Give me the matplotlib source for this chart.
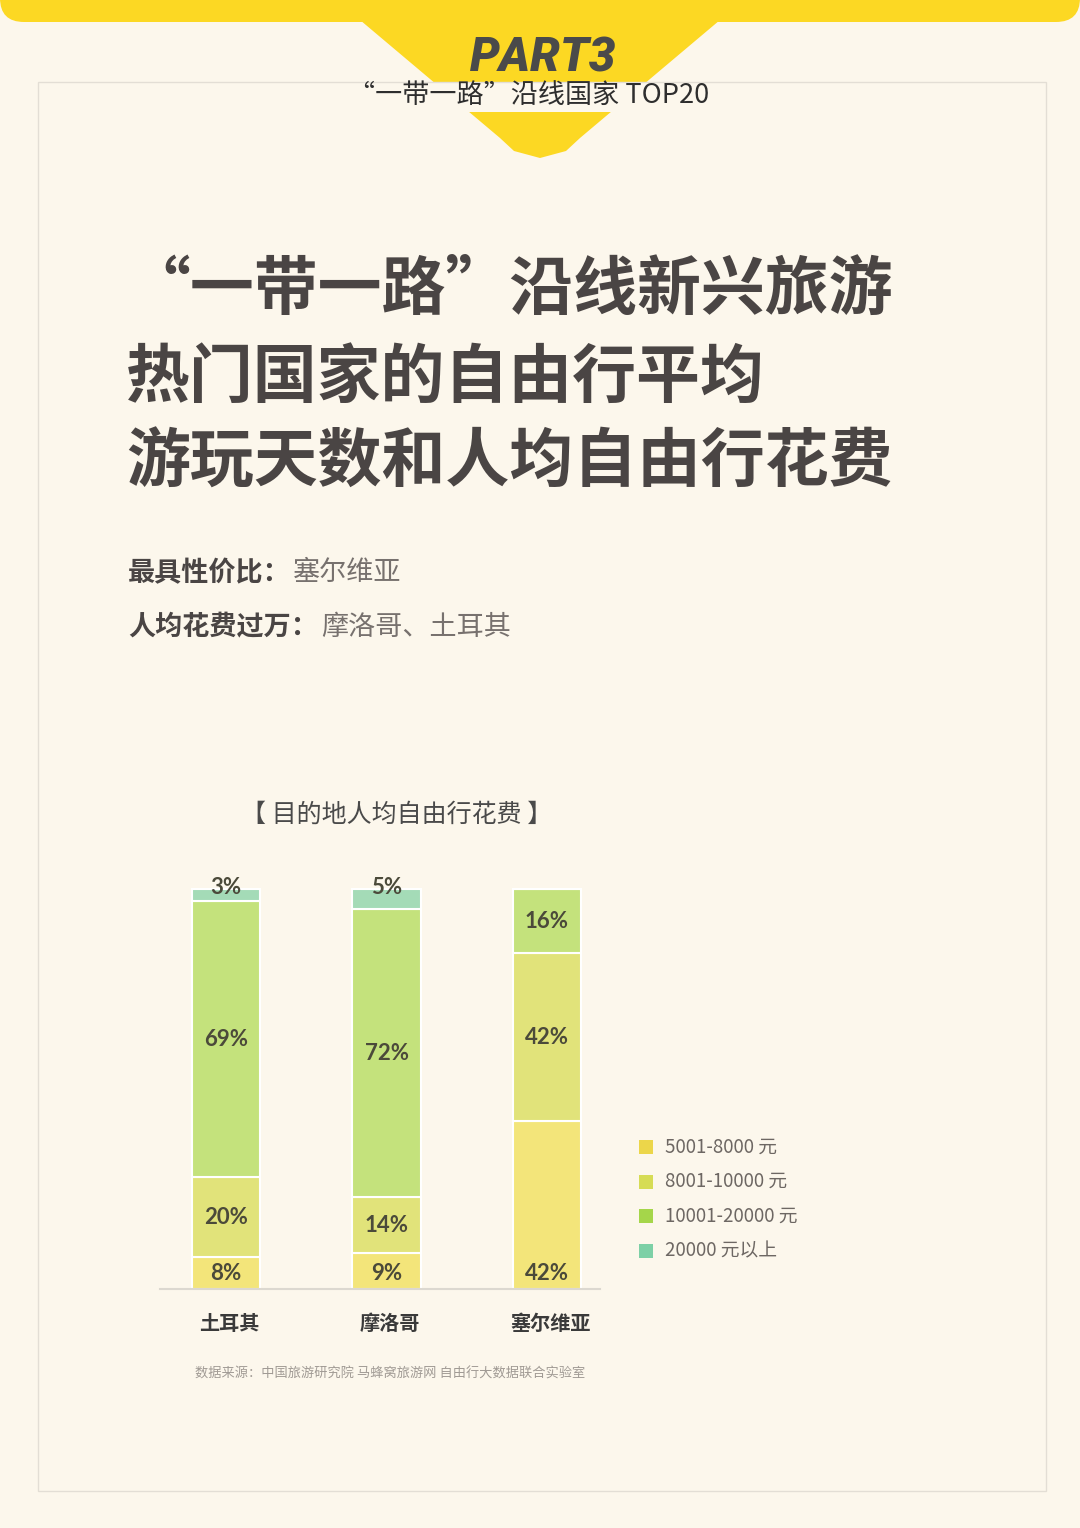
import matplotlib.pyplot as plt
from matplotlib.patches import Rectangle, Polygon, FancyBboxPatch
import numpy as np

# data
countries = ['土耳其', '摩洛哥', '塞尔维亚']
ranges = ['5001-8000 元', '8001-10000 元', '10001-20000 元', '20000 元以上']
share_5001_8000 = [8, 9, 42]
share_8001_10000 = [20, 14, 42]
share_10001_20000 = [69, 72, 16]
share_20000_plus = [3, 5, 0]

title_lines = ['“一带一路”沿线新兴旅游', '热门国家的自由行平均', '游玩天数和人均自由行花费']
chart_title = '【 目的地人均自由行花费 】'
source = '数据来源：中国旅游研究院 马蜂窝旅游网 自由行大数据联合实验室'

BG = '#fcf7ec'
YELLOW = '#fcd823'
DARK = '#4a4544'
bar_colors = ['#f3e57a', '#e1e37a', '#c4e27c', '#a4dbb7']
legend_colors = ['#ecd64a', '#d6dc55', '#a5d64a', '#7dd0a6']

CJK = ['Noto Sans CJK SC', 'DejaVu Sans']
plt.rcParams['font.family'] = CJK

fig = plt.figure(figsize=(10.8, 15.28), dpi=100, facecolor=BG)

# background layer in pixel coordinates
bg = fig.add_axes([0, 0, 1, 1])
bg.set_xlim(0, 1080)
bg.set_ylim(1528, 0)
bg.axis('off')
bg.set_zorder(0)

# yellow header band and the notch below it
bg.add_patch(FancyBboxPatch((0, -80), 1080, 102, boxstyle='round,pad=0,rounding_size=24',
                            facecolor=YELLOW, edgecolor='none'))
bg.add_patch(Polygon([(360, 20), (720, 20), (580, 138), (566, 151), (540, 158),
                      (514, 151), (500, 138)], closed=True, facecolor=YELLOW, edgecolor='none'))
bg.add_patch(Rectangle((330, 82), 420, 30, facecolor=BG, edgecolor='none'))
bg.add_patch(Rectangle((38, 82), 1008, 1409, facecolor='none', edgecolor='#e3ded5', lw=1))

bg.text(543, 59, 'PART3', fontsize=34, family='Roboto', weight='black', style='italic',
        color='#4a4a4a', ha='center', va='center')
bg.text(529, 95, '“一带一路”沿线国家 TOP20', fontsize=19.5, color='#2e2e2e',
        ha='center', va='center')

# big title
for line, y in zip(title_lines, [290, 378, 463]):
    bg.text(126, y, line, fontsize=46, weight='bold', color=DARK, ha='left', va='center')

# highlights
bg.text(128, 573, '最具性价比：', fontsize=19.5, weight='bold', color=DARK, va='center')
bg.text(293, 573, '塞尔维亚', fontsize=19.5, color='#77716e', va='center')
bg.text(128, 627, '人均花费过万：', fontsize=19.5, weight='bold', color=DARK, va='center')
bg.text(321, 627, '摩洛哥、土耳其', fontsize=19.5, color='#77716e', va='center')

bg.text(397, 815, chart_title, fontsize=18, color='#4a4a4a', ha='center', va='center')

# stacked bars
ax = fig.add_axes([160 / 1080, 1 - 1289 / 1528, 440 / 1080, 420 / 1528])
ax.set_facecolor('none')
ax.set_zorder(1)
ax.set_xlim(-0.411, 2.33)
ax.set_ylim(0, 105)
x = np.arange(len(countries))
series = [share_5001_8000, share_8001_10000, share_10001_20000, share_20000_plus]
bottom = np.zeros(len(countries))
for k, (vals, color) in enumerate(zip(series, bar_colors)):
    vals = np.array(vals, dtype=float)
    ax.bar(x, vals, bottom=bottom, width=0.424, color=color, edgecolor='white', lw=1.5)
    for xi, v, b in zip(x, vals, bottom):
        if v == 0:
            continue
        if k == 0:
            y = min(v / 2, 3.75)
        elif k == len(series) - 1 and v <= 5:
            y = 100.5
        else:
            y = b + v / 2
        ax.text(xi, y, f'{int(v)}%', fontsize=16, family='Lato', weight='bold',
                color='#4b4a3a', ha='center', va='center')
    bottom += vals

for s in ['top', 'right', 'left']:
    ax.spines[s].set_visible(False)
ax.spines['bottom'].set_color('#dcd8d0')
ax.spines['bottom'].set_linewidth(1.5)
ax.set_xticks([])
ax.set_yticks([])
for xi, name in zip(x, countries):
    ax.text(xi + 0.02, -8.5, name, fontsize=14.5, weight='bold', color='#3a3a3a',
            ha='center', va='center', clip_on=False)

# legend
for i, (lab, col) in enumerate(zip(ranges, legend_colors)):
    y = 1147 + i * 34.7
    bg.add_patch(Rectangle((639, y - 7), 14, 14, facecolor=col, edgecolor='none'))
    bg.text(665, y, lab, fontsize=13.5, color='#6d6763', va='center', ha='left')

bg.text(390, 1374, source, fontsize=9.5, color='#a09a94', ha='center', va='center')

fig.savefig('out.png', dpi=100, facecolor=BG)
